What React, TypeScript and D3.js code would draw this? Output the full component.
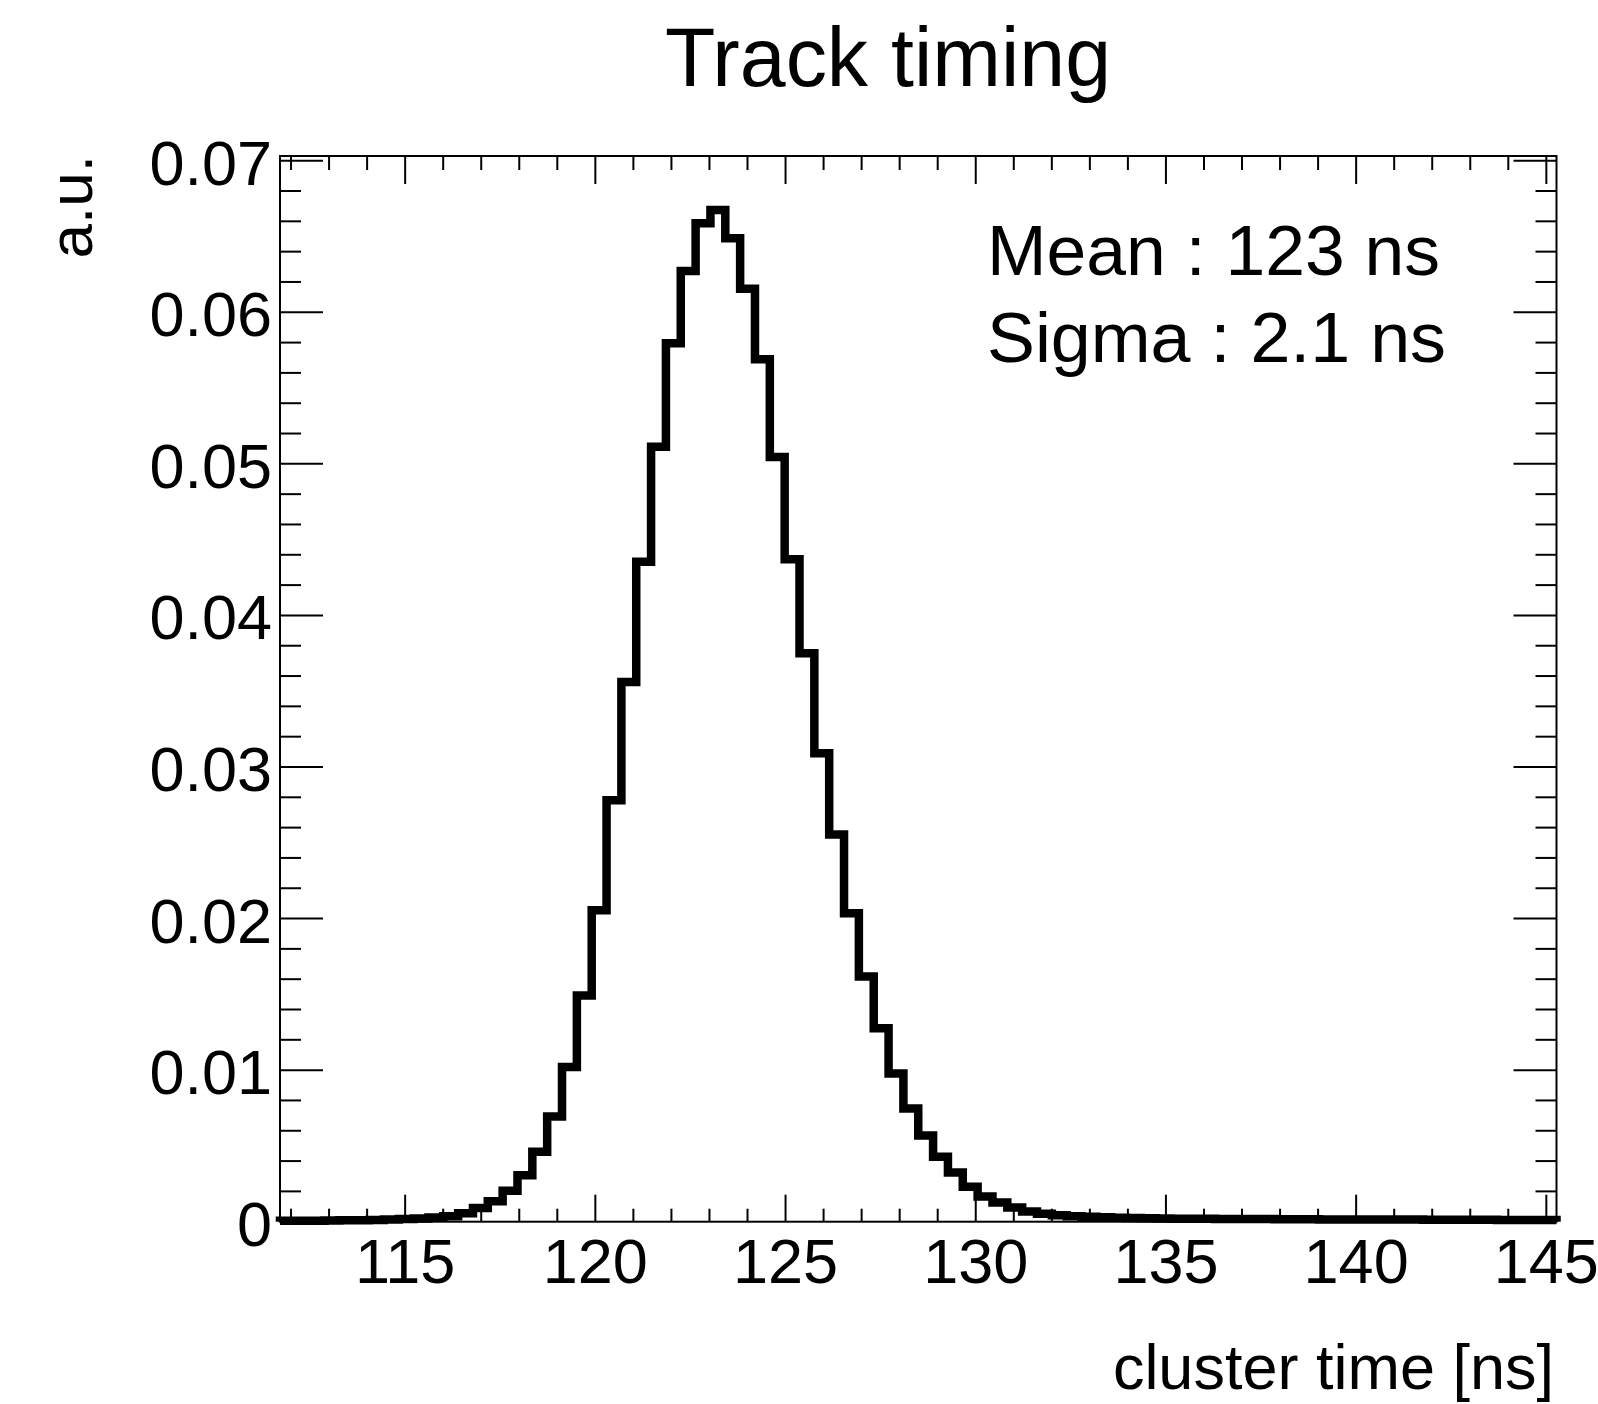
import React from "react";
import * as d3 from "d3";

// ---- data ----
const xMin = 111.71;
const binWidth = 0.3902;
const binValues: number[] = [
  0.00006, 0.00006, 0.00007, 0.00008, 0.00009, 0.0001, 0.00012, 0.00014, 0.00017, 0.00021,
  0.00027, 0.00036, 0.00055, 0.0009, 0.00135, 0.00204, 0.00307, 0.00461, 0.00694, 0.0102,
  0.01493, 0.02054, 0.0278, 0.0356, 0.04354, 0.05112, 0.05795, 0.06272, 0.06587, 0.06675,
  0.06488, 0.06156, 0.0569, 0.05045, 0.0437, 0.0375, 0.0309, 0.02554, 0.02035, 0.01617,
  0.01277, 0.00978, 0.00747, 0.00569, 0.00428, 0.00325, 0.0023, 0.00166, 0.00127, 0.00094,
  0.00068, 0.00052, 0.00042, 0.00036, 0.00032, 0.00029, 0.00026, 0.00024, 0.00022, 0.00021,
  0.0002, 0.00019, 0.00019, 0.00018, 0.00018, 0.00017, 0.00017, 0.00016, 0.00016, 0.00016,
  0.00015, 0.00015, 0.00015, 0.00014, 0.00014, 0.00014, 0.00014, 0.00013, 0.00013, 0.00013,
  0.00013, 0.00013, 0.00012, 0.00012, 0.00012, 0.00012,
];
const yMax = 0.07031;
const xMajorTicks = [115, 120, 125, 130, 135, 140, 145];
const xMinorTicks = d3.range(112, 146, 1);
const yMajorTicks = [0, 0.01, 0.02, 0.03, 0.04, 0.05, 0.06, 0.07];
const yTickLabels = ["0", "0.01", "0.02", "0.03", "0.04", "0.05", "0.06", "0.07"];
const yMinorTicks = d3.range(0, 36).map((i) => i * 0.002);
const titleText = "Track timing";
const xTitle = "cluster time [ns]";
const yTitle = "a.u.";
const statLines = ["Mean : 123 ns", "Sigma : 2.1 ns"];
const statWidths = [453, 459];

const FONT = "'Liberation Sans', Arial, Helvetica, sans-serif";

export default function App() {
  const left = 280;
  const right = 1556.5;
  const top = 156;
  const bottom = 1221.7;
  const xMax = xMin + binValues.length * binWidth;
  const x = d3.scaleLinear().domain([xMin, xMax]).range([left, right]);
  const y = d3.scaleLinear().domain([0, yMax]).range([bottom, top]);

  const pts: [number, number][] = [[xMin, 0]];
  binValues.forEach((v, i) => pts.push([xMin + i * binWidth, v]));
  pts.push([xMax, binValues[binValues.length - 1]]);
  pts.push([xMax, 0]);
  const line = d3
    .line<[number, number]>()
    .x((d) => x(d[0]))
    .y((d) => y(d[1]))
    .curve(d3.curveStepAfter);

  const xMajLen = 27;
  const xMinLen = 13;
  const yMajLen = 43;
  const yMinLen = 21;
  const isMajorX = (t: number) => xMajorTicks.includes(t);
  const isMajorY = (t: number) => yMajorTicks.some((m) => Math.abs(m - t) < 1e-9);

  return (
    <svg
      width={1598}
      height={1404}
      style={{ position: "absolute", left: 0, top: 0, background: "#fff" }}
      fontFamily={FONT}
    >
      <rect x={0} y={0} width={1598} height={1404} fill="#fff" />
      {/* title */}
      <text x={888} y={86} fontSize={84} textAnchor="middle" textLength={446} lengthAdjust="spacingAndGlyphs">
        {titleText}
      </text>

      {/* histogram */}
      <path d={line(pts) || ""} fill="none" stroke="#000" strokeWidth={8.5} strokeLinejoin="miter" />

      {/* frame */}
      <rect x={left} y={top} width={right - left} height={bottom - top} fill="none" stroke="#000" strokeWidth={2} />

      {/* x ticks bottom & top */}
      {xMinorTicks.map((t) => {
        const len = isMajorX(t) ? xMajLen : xMinLen;
        return (
          <g key={"xt" + t}>
            <line x1={x(t)} x2={x(t)} y1={bottom} y2={bottom - len} stroke="#000" strokeWidth={2} />
            <line x1={x(t)} x2={x(t)} y1={top} y2={top + len + 1} stroke="#000" strokeWidth={2} />
          </g>
        );
      })}
      {/* y ticks left & right */}
      {yMinorTicks.map((t, i) => {
        const len = isMajorY(t) ? yMajLen : yMinLen;
        return (
          <g key={"yt" + i}>
            <line x1={left} x2={left + len} y1={y(t)} y2={y(t)} stroke="#000" strokeWidth={2} />
            <line x1={right} x2={right - len} y1={y(t)} y2={y(t)} stroke="#000" strokeWidth={2} />
          </g>
        );
      })}

      {/* x tick labels */}
      {xMajorTicks.map((t) => (
        <text key={"xl" + t} x={x(t)} y={1283} fontSize={63} textAnchor="middle">
          {String(t)}
        </text>
      ))}
      {/* y tick labels */}
      {yMajorTicks.map((t, i) => (
        <text key={"yl" + i} x={272} y={y(t) + 24} fontSize={63} textAnchor="end">
          {yTickLabels[i]}
        </text>
      ))}

      {/* axis titles */}
      <text x={1554} y={1389} fontSize={63} textAnchor="end">
        {xTitle}
      </text>
      <text transform="translate(92,155) rotate(-90)" fontSize={62} textAnchor="end">
        {yTitle}
      </text>

      {/* stats */}
      {statLines.map((s, i) => (
        <text
          key={"st" + i}
          x={987}
          y={275 + i * 87}
          fontSize={71}
          textLength={statWidths[i]}
          lengthAdjust="spacingAndGlyphs"
        >
          {s}
        </text>
      ))}
    </svg>
  );
}
